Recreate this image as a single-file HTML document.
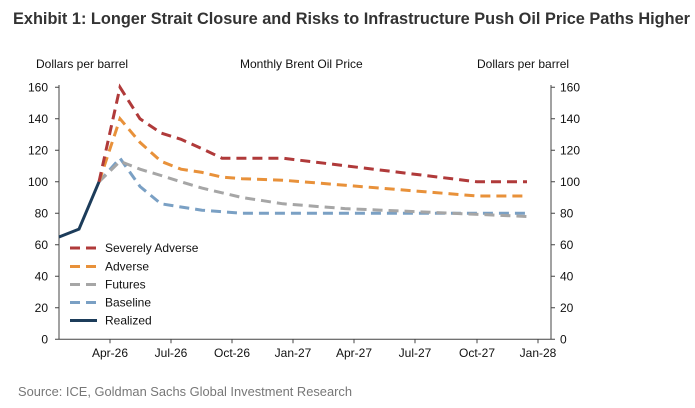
<!DOCTYPE html>
<html><head><meta charset="utf-8"><style>
body{margin:0;background:#fff;}
svg{display:block;font-family:"Liberation Sans",Arial,sans-serif;}
</style></head><body>
<svg width="695" height="408" viewBox="0 0 695 408" xmlns="http://www.w3.org/2000/svg">
<rect width="695" height="408" fill="#fff"/>
<text x="13" y="24" font-size="17" font-weight="bold" fill="#333" textLength="677" lengthAdjust="spacingAndGlyphs">Exhibit 1: Longer Strait Closure and Risks to Infrastructure Push Oil Price Paths Higher</text>
<g font-size="12" fill="#111">
<text x="36" y="68">Dollars per barrel</text>
<text x="240" y="68">Monthly Brent Oil Price</text>
<text x="477" y="68">Dollars per barrel</text>
</g>
<g stroke="#444" stroke-width="1" fill="none">
<line x1="59" y1="85" x2="59" y2="339.3"/>
<line x1="551" y1="85" x2="551" y2="339.3"/>
<line x1="59" y1="339.3" x2="551" y2="339.3"/>
<path d="M110 339.3v4M171 339.3v4M232 339.3v4M293 339.3v4M354 339.3v4M415 339.3v4M477 339.3v4M538 339.3v4"/>
<path d="M55 87.3h4M55 118.8h4M55 150.3h4M55 181.8h4M55 213.3h4M55 244.8h4M55 276.3h4M55 307.8h4M55 339.3h4"/>
<path d="M551 87.3h4M551 118.8h4M551 150.3h4M551 181.8h4M551 213.3h4M551 244.8h4M551 276.3h4M551 307.8h4M551 339.3h4"/>
</g>
<g font-size="12" fill="#111" text-anchor="end">
<text x="48" y="91.5">160</text><text x="48" y="123">140</text><text x="48" y="154.5">120</text><text x="48" y="186">100</text><text x="48" y="217.5">80</text><text x="48" y="249">60</text><text x="48" y="280.5">40</text><text x="48" y="312">20</text><text x="48" y="343.5">0</text>
</g>
<g font-size="12" fill="#111">
<text x="560" y="91.5">160</text><text x="560" y="123">140</text><text x="560" y="154.5">120</text><text x="560" y="186">100</text><text x="560" y="217.5">80</text><text x="560" y="249">60</text><text x="560" y="280.5">40</text><text x="560" y="312">20</text><text x="560" y="343.5">0</text>
</g>
<g font-size="12" fill="#111" text-anchor="middle">
<text x="110" y="357">Apr-26</text><text x="171" y="357">Jul-26</text><text x="232" y="357">Oct-26</text><text x="293" y="357">Jan-27</text><text x="354" y="357">Apr-27</text><text x="415" y="357">Jul-27</text><text x="477" y="357">Oct-27</text><text x="538" y="357">Jan-28</text>
</g>
<g fill="none" stroke-width="3" stroke-dasharray="10,6">
<polyline stroke="#7aa0c4" points="99,181.8 120,158.2 140,186.5 161,203.8 181,207 202,210.2 222,211.7 242,213.3 527,213.3"/>
<polyline stroke="#a6a6a6" points="99,181.8 120,161.3 140,169.2 161,175.5 181,181.8 202,188.1 222,192.8 242,197.5 263,200.7 283,203.8 304,205.4 324,207 345,208.6 527,216.5"/>
<polyline stroke="#e8913a" points="99,181.8 120,118.8 140,142.4 161,161.3 181,169.2 202,172.4 222,177.1 242,178.7 283,180.2 477,196 527,196"/>
<polyline stroke="#b03a3a" points="99,181.8 120,87.3 140,118.8 161,133 181,139.3 202,148.7 222,158.2 283,158.2 477,181.8 527,181.8"/>
</g>
<polyline fill="none" stroke="#1c3c5a" stroke-width="3" points="59,237 79,229.1 99,181.8"/>
<g stroke-width="3" fill="none">
<line x1="70" y1="248" x2="97" y2="248" stroke="#b03a3a" stroke-dasharray="10,6"/>
<line x1="70" y1="266.5" x2="97" y2="266.5" stroke="#e8913a" stroke-dasharray="10,6"/>
<line x1="70" y1="284.5" x2="97" y2="284.5" stroke="#a6a6a6" stroke-dasharray="10,6"/>
<line x1="70" y1="302.5" x2="97" y2="302.5" stroke="#7aa0c4" stroke-dasharray="10,6"/>
<line x1="70" y1="320.5" x2="97" y2="320.5" stroke="#1c3c5a"/>
</g>
<g font-size="12" fill="#111">
<text x="105" y="252">Severely Adverse</text>
<text x="105" y="270.5">Adverse</text>
<text x="105" y="288.5">Futures</text>
<text x="105" y="306.5">Baseline</text>
<text x="105" y="324.5">Realized</text>
</g>
<text x="18" y="396" font-size="13" fill="#777" textLength="334" lengthAdjust="spacingAndGlyphs">Source: ICE, Goldman Sachs Global Investment Research</text>
</svg>
</body></html>
